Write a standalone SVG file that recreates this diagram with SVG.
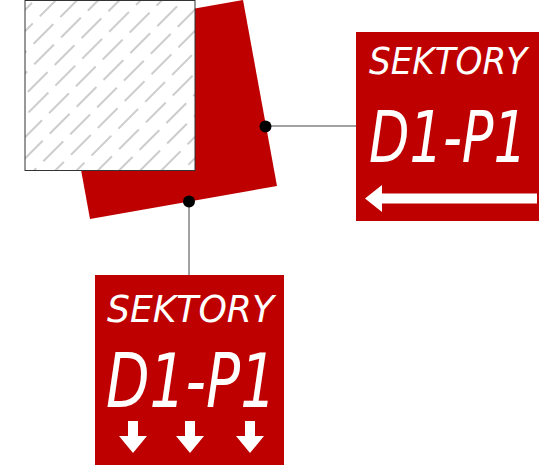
<svg xmlns="http://www.w3.org/2000/svg" width="539" height="471" viewBox="0 0 539 471">
<style>
.sign{fill:#bf0000}
.t{fill:#fff;font-family:"DejaVu Sans","Liberation Sans",sans-serif;font-style:oblique}
.conn{stroke:#444;stroke-width:1;fill:none}
.dot{fill:#000}
.arr{fill:#fff}
</style>
<defs>
<pattern id="hatch" patternUnits="userSpaceOnUse" width="38" height="30" patternTransform="rotate(-45 25 0)">
<line x1="0" y1="7" x2="38" y2="7" stroke="#999" stroke-width="1" stroke-dasharray="28,10"/>
<line x1="0" y1="22" x2="38" y2="22" stroke="#999" stroke-width="1" stroke-dasharray="14,10,14,0"/>
</pattern>
</defs>
<g id="rotated-sector">
<polygon points="56,33 243,0 277,186 90,219" fill="#bf0000"/>
</g>
<g id="hatched-square">
<rect x="25" y="0.5" width="170" height="170" fill="#fff"/>
<rect x="25" y="0.5" width="170" height="170" fill="url(#hatch)" stroke="#333" stroke-width="1"/>
</g>
<g id="connectors">
<line class="conn" x1="265" y1="126" x2="356" y2="126"/>
<line class="conn" x1="189" y1="201" x2="189" y2="275"/>
<circle class="dot" cx="265.5" cy="126.5" r="6"/>
<circle class="dot" cx="189" cy="201.5" r="6"/>
</g>
<g id="sign-right">
<rect class="sign" x="356" y="32" width="183" height="189"/>
<text class="t" transform="translate(369,74) scale(0.9,1)" font-size="38">SEKTORY</text>
<text class="t" transform="translate(369,162) scale(0.73,1)" font-size="72">D1-P1</text>
<polygon class="arr" points="365,198.5 382,185 382,193.5 537,193.5 537,203.5 382,203.5 382,212"/>
</g>
<g id="sign-bottom">
<rect class="sign" x="95" y="275" width="189" height="190"/>
<text class="t" transform="translate(107,322) scale(0.95,1)" font-size="38">SEKTORY</text>
<text class="t" transform="translate(106,407) scale(0.765,1)" font-size="74">D1-P1</text>
<polygon class="arr" points="128,421 138,421 138,436 147,436 133,453 119,436 128,436"/>
<polygon class="arr" points="185,421 195,421 195,436 204,436 190,453 176,436 185,436"/>
<polygon class="arr" points="245,421 255,421 255,436 264,436 250,453 236,436 245,436"/>
</g>
</svg>
